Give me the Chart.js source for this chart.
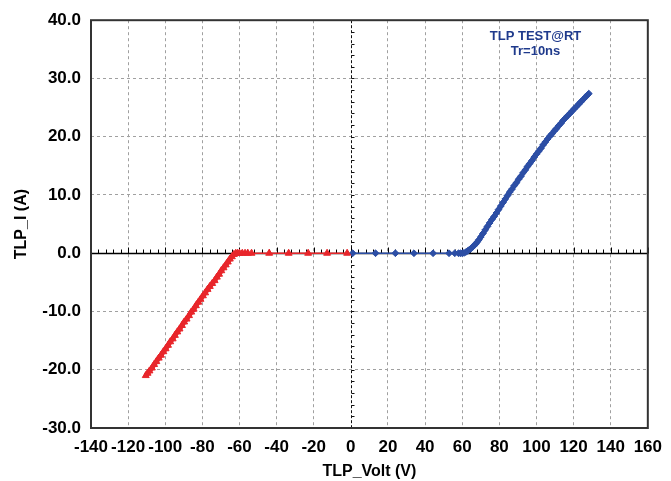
<!DOCTYPE html>
<html><head><meta charset="utf-8">
<script src="https://cdn.jsdelivr.net/npm/chart.js@4/dist/chart.umd.min.js"></script>
<style>html,body{margin:0;padding:0;background:#fff;}#wrap{width:671px;height:481px;}</style>
</head><body><div id="wrap"><canvas id="c" width="671" height="481"></canvas></div>
<script>
// Reverse-polarity TLP sweep (red)
const negVolt = [-110.5,-109.5,-108.5,-107.2,-106.0,-104.8,-103.5,-102.3,-101.0,-99.8,-98.5,-97.3,-96.0,-94.8,-93.5,-92.3,-91.0,-89.8,-88.5,-87.2,-86.0,-84.7,-83.5,-82.2,-81.0,-79.7,-78.5,-77.2,-76.0,-74.7,-73.4,-72.2,-71.0,-69.8,-68.6,-67.4,-66.3,-65.2,-64.1,-63.0,-62.0,-61.0,-60.0,-58.5,-57.0,-55.5,-53.5,-44.0,-33.5,-23.0,-12.8,-2.0];
const negCurr = [-21.0,-20.6,-20.2,-19.7,-19.1,-18.6,-18.0,-17.5,-16.9,-16.4,-15.8,-15.2,-14.7,-14.1,-13.5,-13.0,-12.4,-11.8,-11.3,-10.7,-10.1,-9.6,-9.0,-8.4,-7.9,-7.3,-6.8,-6.2,-5.7,-5.2,-4.7,-4.1,-3.6,-3.0,-2.5,-2.0,-1.5,-1.0,-0.6,-0.2,0.0,0.0,0.0,0.0,0.0,0.0,0.0,0.0,0.0,0.0,0.0,0.0];
// Forward-polarity TLP sweep (blue)
const posVolt = [1.0,13.3,24.0,34.0,44.3,52.9,56.0,58.0,59.0,60.0,61.0,62.0,63.0,64.0,65.0,66.0,67.0,68.0,69.0,70.0,71.2,72.4,73.6,74.8,76.0,77.2,78.4,79.6,80.8,82.0,83.2,84.4,85.6,86.8,88.0,89.2,90.4,91.6,92.8,94.0,95.2,96.4,97.6,98.8,100.0,101.2,102.4,103.6,104.8,106.0,107.2,108.4,109.6,110.8,112.0,113.2,114.4,115.6,116.8,118.0,119.2,120.4,121.6,122.8,124.0,125.2,126.4,127.6,128.2];
const posCurr = [0.0,0.0,0.0,0.0,0.0,0.0,0.0,0.0,0.0,0.0,0.05,0.2,0.4,0.65,0.9,1.2,1.5,1.9,2.3,2.8,3.4,4.0,4.6,5.2,5.8,6.3,6.9,7.5,8.1,8.7,9.3,9.9,10.5,11.0,11.6,12.1,12.7,13.2,13.8,14.3,14.9,15.4,15.9,16.5,17.0,17.5,18.0,18.6,19.1,19.6,20.1,20.5,21.0,21.4,21.9,22.3,22.8,23.2,23.6,24.0,24.4,24.8,25.2,25.6,26.0,26.4,26.8,27.2,27.4];
const xRange = [-140, 160];
const yRange = [-30, 40];
const xStep = 20;
const yStep = 10;
const noteLines = ['TLP TEST@RT', 'Tr=10ns'];
const xTitle = 'TLP_Volt (V)';
const yTitle = 'TLP_I (A)';

const FONT = '"Liberation Sans", Arial, sans-serif';
const RED = '#e8262b';
const BLUE = '#2c4ea5';

const decor = {
  id: 'decor',
  beforeDatasetsDraw(chart) {
    const {ctx, chartArea: a, scales: {x, y}} = chart;
    ctx.save();
    const y0 = Math.round(y.getPixelForValue(0)) + 0.5;
    const x0 = Math.round(x.getPixelForValue(0)) + 0.5;
    ctx.strokeStyle = '#111';
    ctx.lineWidth = 1;
    ctx.setLineDash([3, 2]);
    ctx.beginPath(); ctx.moveTo(x0, a.top); ctx.lineTo(x0, a.bottom); ctx.stroke();
    ctx.setLineDash([]);
    ctx.beginPath();
    for (let v = yRange[0]; v <= yRange[1]; v += 2) {
      const py = Math.round(y.getPixelForValue(v)) + 0.5;
      ctx.moveTo(x0, py); ctx.lineTo(x0 + 3, py);
    }
    ctx.stroke();
    ctx.lineWidth = 1.6;
    ctx.strokeStyle = '#000';
    ctx.beginPath(); ctx.moveTo(a.left, y0); ctx.lineTo(a.right, y0); ctx.stroke();
    ctx.lineWidth = 1;
    ctx.beginPath();
    for (let v = xRange[0]; v <= xRange[1]; v += 4) {
      const px = Math.round(x.getPixelForValue(v)) + 0.5;
      const len = (v % 20 === 0) ? 6 : 4;
      ctx.moveTo(px, y0); ctx.lineTo(px, y0 - len);
    }
    ctx.stroke();
    ctx.restore();
  },
  afterDraw(chart) {
    const {ctx, chartArea: a, scales: {x, y}} = chart;
    ctx.save();
    ctx.strokeStyle = '#333';
    ctx.lineWidth = 2;
    ctx.strokeRect(a.left, a.top, a.right - a.left, a.bottom - a.top);
    ctx.fillStyle = '#1f3a8c';
    ctx.font = 'bold 13px ' + FONT;
    ctx.textAlign = 'center';
    ctx.textBaseline = 'middle';
    const cx = x.getPixelForValue(99.5);
    const cy = y.getPixelForValue(37.2);
    noteLines.forEach((t, i) => ctx.fillText(t, cx, cy + i * 15));
    ctx.restore();
  }
};

const gridColor = (c) => (c.tick && c.tick.value === 0) ? 'rgba(0,0,0,0)' : '#a0a0a0';
const segWidth = (c) => (c.p0.parsed.y === 0 && c.p1.parsed.y === 0) ? 1.5 : 5;

new Chart(document.getElementById('c'), {
  type: 'scatter',
  data: {
    datasets: [
      {
        data: negVolt.map((v, i) => ({x: v, y: negCurr[i]})),
        showLine: true,
        borderColor: RED,
        backgroundColor: RED,
        borderWidth: 5,
        segment: {borderWidth: segWidth},
        pointStyle: 'triangle',
        pointRadius: 4,
        pointBorderWidth: 1,
        pointBorderColor: RED,
        pointBackgroundColor: RED
      },
      {
        data: posVolt.map((v, i) => ({x: v, y: posCurr[i]})),
        showLine: true,
        borderColor: BLUE,
        backgroundColor: BLUE,
        borderWidth: 5,
        segment: {borderWidth: segWidth},
        pointStyle: 'rectRot',
        pointRadius: 3.4,
        pointBorderWidth: 1,
        pointBorderColor: BLUE,
        pointBackgroundColor: BLUE
      }
    ]
  },
  options: {
    responsive: false,
    devicePixelRatio: 1,
    animation: false,
    layout: {padding: {top: 15, right: 18, left: 0, bottom: 0}},
    plugins: {legend: {display: false}, tooltip: {enabled: false}},
    scales: {
      x: {
        type: 'linear', min: xRange[0], max: xRange[1],
        afterFit: (s) => { s.height = 53; },
        ticks: {
          stepSize: xStep, autoSkip: false, maxRotation: 0, minRotation: 0,
          color: '#000', padding: 9,
          font: {family: FONT, size: 17, weight: 'bold'},
          callback: (v) => String(v)
        },
        grid: {color: gridColor, drawTicks: false, lineWidth: 1},
        border: {display: false, dash: [3, 3]},
        title: {display: true, text: xTitle, color: '#000', padding: {top: 2, bottom: 0},
                font: {family: FONT, size: 16, weight: 'bold'}}
      },
      y: {
        type: 'linear', min: yRange[0], max: yRange[1],
        afterFit: (s) => { s.width = 91; },
        ticks: {
          stepSize: yStep, color: '#000', padding: 10,
          font: {family: FONT, size: 17, weight: 'bold'},
          callback: (v) => v.toFixed(1)
        },
        grid: {color: gridColor, drawTicks: false, lineWidth: 1},
        border: {display: false, dash: [3, 3]},
        title: {display: true, text: yTitle, color: '#000', padding: {top: 12, bottom: 0},
                font: {family: FONT, size: 16, weight: 'bold'}}
      }
    }
  },
  plugins: [decor]
});
</script>
</body></html>
